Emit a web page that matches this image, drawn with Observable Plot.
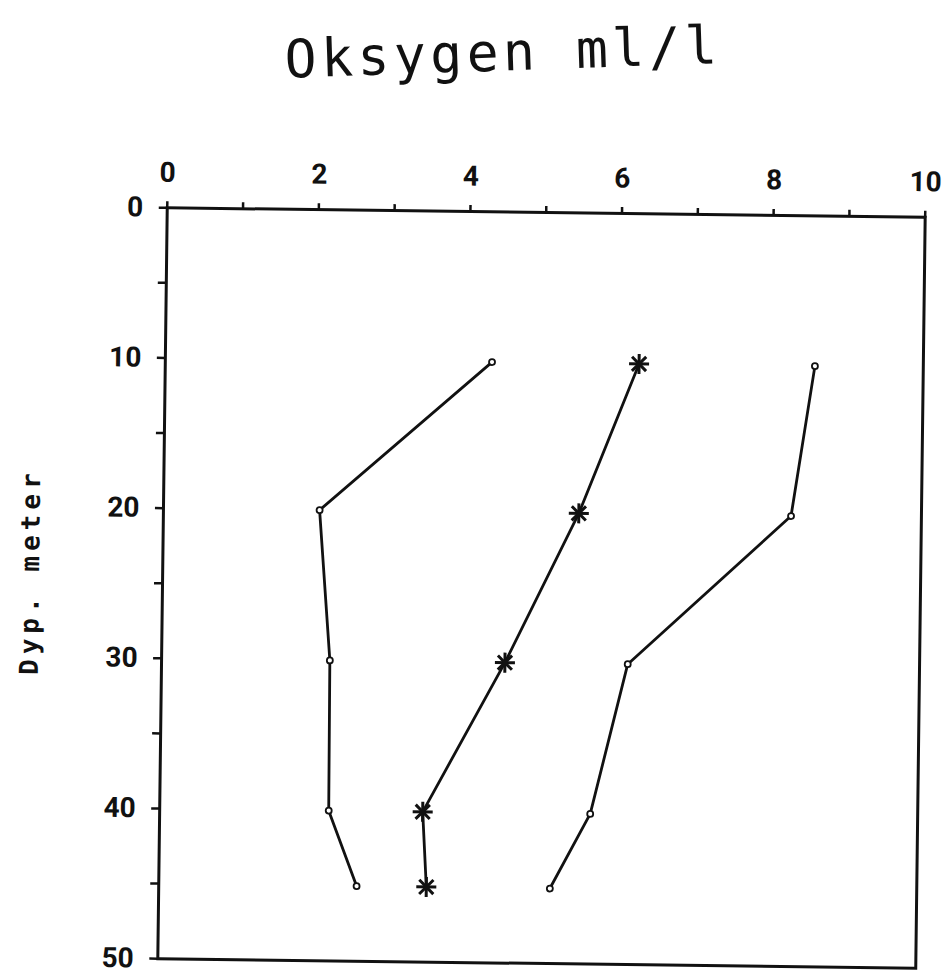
<!DOCTYPE html>
<html>
<head>
<meta charset="utf-8">
<script src="https://cdn.jsdelivr.net/npm/d3@7"></script>
<script src="https://cdn.jsdelivr.net/npm/@observablehq/plot@0.6"></script>
<style>
  body { margin: 0; background: #fff; width: 950px; height: 974px; overflow: hidden; position: relative; }
  #title { position: absolute; left: 503px; top: 52px; transform: translate(-50%, -50%) rotate(-1.9deg);
           font-family: "DejaVu Sans Mono", monospace; font-size: 53px; letter-spacing: 4.5px;
           white-space: nowrap; color: #111; }
  #chart { position: absolute; left: 0; top: 120px; }
  #chart svg { transform-origin: 541px 467.5px; transform: rotate(0.72deg); }
</style>
</head>
<body>
<div id="title">Oksygen ml/l</div>
<div id="chart"></div>
<script>
// Depths (m) and oxygen values (ml/l)
const depths = [10, 20, 30, 40, 45];
const oxygenLeft = [4.31, 2.06, 2.22, 2.23, 2.61];
const oxygenMiddle = [6.25, 5.48, 4.53, 3.47, 3.53];
const oxygenRight = [8.57, 8.28, 6.15, 5.68, 5.16];

const xTicks = [0, 1, 2, 3, 4, 5, 6, 7, 8, 9, 10];
const xTickLabels = ["0", "", "2", "", "4", "", "6", "", "8", "", "10"];
const yTicks = [0, 5, 10, 15, 20, 25, 30, 35, 40, 45, 50];
const yTickLabels = ["0", "", "10", "", "20", "", "30", "", "40", "", "50"];

const titleText = "Oksygen ml/l";
const yLabelText = "Dyp. meter";

const seriesList = [
  {name: "left", marker: "circle", values: oxygenLeft},
  {name: "middle", marker: "star", values: oxygenMiddle},
  {name: "right", marker: "circle", values: oxygenRight}
];

const rows = [];
for (const s of seriesList) {
  s.values.forEach((v, i) => rows.push({series: s.name, marker: s.marker, oxygen: v, depth: depths[i]}));
}

const ink = "#111";

const plot = Plot.plot({
  width: 950,
  height: 854,
  marginTop: 92,
  marginBottom: 11,
  marginLeft: 162,
  marginRight: 30,
  x: {domain: [0, 10], label: null},
  y: {domain: [0, 50], reverse: true, label: null},
  style: {fontFamily: "Roboto, sans-serif", fontWeight: "bold", fontSize: "28px", color: ink, background: "white", overflow: "visible"},
  marks: [
    Plot.axisX(xTicks, {anchor: "top", tickSize: 7, tickPadding: 19, strokeWidth: 2.5,
      tickFormat: (d) => xTickLabels[xTicks.indexOf(d)]}),
    Plot.axisY(yTicks, {anchor: "left", tickSize: 8, tickPadding: 16, strokeWidth: 2.5,
      tickFormat: (d) => yTickLabels[yTicks.indexOf(d)]}),
    Plot.frame({stroke: ink, strokeWidth: 3}),
    Plot.line(rows, {x: "oxygen", y: "depth", z: "series", stroke: ink, strokeWidth: 2.8}),
    Plot.dot(rows.filter((d) => d.marker === "circle"), {x: "oxygen", y: "depth", r: 3, fill: "white", stroke: ink, strokeWidth: 1.8}),
    Plot.dot(rows.filter((d) => d.marker === "star"), {x: "oxygen", y: "depth", symbol: "plus", r: 6.5, stroke: ink, strokeWidth: 3}),
    Plot.dot(rows.filter((d) => d.marker === "star"), {x: "oxygen", y: "depth", symbol: "times", r: 6.5, stroke: ink, strokeWidth: 3}),
    Plot.text([yLabelText], {text: (d) => d, frameAnchor: "left", textAnchor: "middle", rotate: -90, dx: -132, dy: -10,
      fontFamily: "'DejaVu Sans Mono', monospace", fontSize: 26, fontWeight: "bold", fill: ink})
  ]
});

d3.select(plot).selectAll("text").filter(function () { return this.textContent === yLabelText; })
  .style("letter-spacing", "5px");

document.getElementById("chart").appendChild(plot);
document.getElementById("title").textContent = titleText;
</script>
</body>
</html>
